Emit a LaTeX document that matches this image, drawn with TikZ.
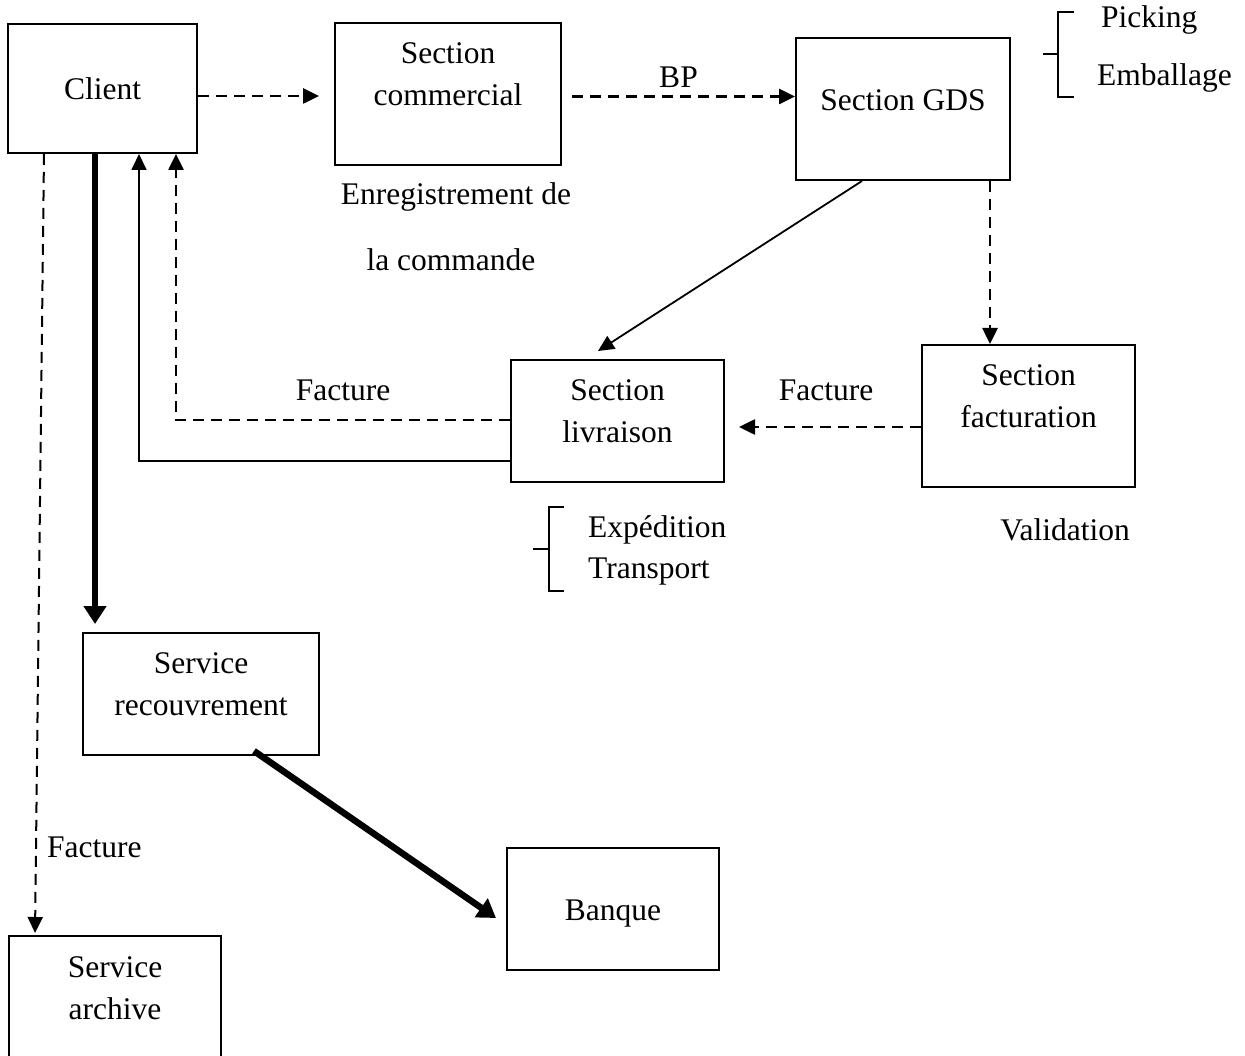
\documentclass[tikz,border=0pt]{standalone}
\usepackage{fontspec}
\setmainfont{Liberation Serif}
\usetikzlibrary{arrows.meta}
\begin{document}
\begin{tikzpicture}[x=1pt,y=-1pt,
  font=\fontsize{31.5}{42}\selectfont,
  box/.style={draw, line width=2pt, inner sep=0pt},
  txt/.style={inner sep=0pt, align=center},
  dsh/.style={line width=2.6pt, dash pattern=on 11pt off 7pt},
  fine/.style={line width=1.8pt},
  heavy/.style={line width=6.5pt},
  tip/.style={-{Triangle[length=16pt,width=15pt]}},
  bigtip/.style={-{Triangle[length=18pt,width=22pt]}}]
\clip (0,0) rectangle (1245,1056);

% processing units
\node[box, minimum width=189pt, minimum height=129pt] (client) at (102.5,88.5) {Client};
\node[box, minimum width=226pt, minimum height=142pt,
  label={[txt, yshift=20pt]center:Section\\commercial}] (comm) at (448,94) {};
\node[box, minimum width=214pt, minimum height=142pt,
  label={[txt, yshift=9pt]center:Section GDS}] (gds) at (903,109) {};
\node[box, minimum width=213pt, minimum height=122pt,
  label={[txt, yshift=10pt]center:Section\\livraison}] (livr) at (617.5,421) {};
\node[box, minimum width=213pt, minimum height=142pt,
  label={[txt, yshift=20pt]center:Section\\facturation}] (fact) at (1028.5,416) {};
\node[box, minimum width=236pt, minimum height=122pt,
  label={[txt, yshift=10pt]center:Service\\recouvrement}] (recouv) at (201,694) {};
\node[box, minimum width=212pt, minimum height=122pt,
  label={[txt, yshift=-5pt]center:Banque}] (banque) at (613,909) {};
\node[box, minimum width=212pt, minimum height=170pt, anchor=north,
  label={[txt, anchor=north, yshift=-21pt]north:Service\\archive}] (archive) at (115,935) {};

% side notes
\node[txt] (enreg) at (456,197) {Enregistrement de};
\node[txt] (cmd) at (451,260) {la commande};
\node[txt] (valid) at (1065,530) {Validation};
\node[txt, anchor=west] (picking) at (1101,20) {Picking};
\node[txt, anchor=west] (emball) at (1097,78) {Emballage};
\node[txt, anchor=west] (exped) at (588,530) {Expédition};
\node[txt, anchor=west] (transp) at (588,572) {Transport};

% brackets
\draw[fine] (1074,12) -- (1058,12) -- (1058,97) -- (1074,97);
\draw[fine] (1043,54) -- (1058,54);
\draw[fine] (564,507) -- (549,507) -- (549,591) -- (564,591);
\draw[fine] (533,549) -- (549,549);

% flows
\draw[dsh, tip, shorten >=15pt] ([yshift=-7.5pt]client.east) -- ([yshift=-7.5pt]client.east -| comm.west);
\draw[dsh, tip, shorten <=10pt] ([yshift=-2.5pt]comm.east) -- ([yshift=-2.5pt]comm.east -| gds.west)
  node[midway, above=8pt, txt] (bp) {BP};
\draw[fine, tip] ([xshift=-41pt]gds.south) -- ([xshift=-19.5pt,yshift=8pt]livr.north);
\draw[dsh, tip] ([xshift=87pt]gds.south) -- ([xshift=87pt]gds.south |- fact.north);
\draw[dsh, tip, shorten >=14pt] ([yshift=-11pt]fact.west) -- ([yshift=-11pt]fact.west -| livr.east);
\node[txt] (factA) at (826,390) {Facture};
\draw[dsh, tip] ([yshift=1pt]livr.west) -| ([xshift=73.5pt]client.south);
\node[txt] (factB) at (343,390) {Facture};
\draw[fine, tip] ([yshift=-40pt]livr.west) -| ([xshift=36.5pt]client.south);
\draw[heavy, bigtip, shorten >=8pt] ([xshift=-7.5pt]client.south) -- ([xshift=-7.5pt]client.south |- recouv.north);
\draw[heavy, bigtip] ([xshift=53pt,yshift=5pt]recouv.south) -- ([xshift=-10pt,yshift=-9pt]banque.west);
\draw[dsh, line width=2pt, tip, shorten >=2pt] ([xshift=-58.5pt]client.south) -- ([xshift=-80pt]archive.north);
\node[txt, anchor=west] (factC) at (47,847) {Facture};
\end{tikzpicture}
\end{document}
